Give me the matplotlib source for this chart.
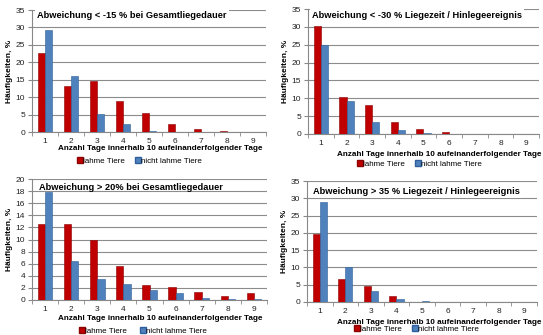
import matplotlib
matplotlib.use("Agg")
import matplotlib.pyplot as plt
import numpy as np
from matplotlib.patches import Patch

plt.rcParams['font.family'] = ['Liberation Sans', 'DejaVu Sans']

categories = [1, 2, 3, 4, 5, 6, 7, 8, 9]

titles = [
    "Abweichung < -15 % bei Gesamtliegedauer",
    "Abweichung < -30 % Liegezeit / Hinlegeereignis",
    "Abweichung > 20% bei Gesamtliegedauer",
    "Abweichung > 35 % Liegezeit / Hinlegeereignis",
]
lahme = [
    [22.7, 13.3, 14.7, 8.8, 5.5, 2.4, 0.8, 0.15, 0.0],
    [30.3, 10.3, 8.0, 3.4, 1.3, 0.5, 0.0, 0.0, 0.0],
    [12.5, 12.5, 10.0, 5.7, 2.5, 2.1, 1.3, 0.7, 1.1],
    [19.7, 6.6, 4.6, 1.7, 0.0, 0.0, 0.0, 0.0, 0.0],
]
nicht_lahme = [
    [29.2, 16.0, 5.3, 2.2, 0.4, 0.1, 0.0, 0.0, 0.0],
    [24.8, 9.3, 3.3, 1.1, 0.2, 0.1, 0.0, 0.0, 0.0],
    [17.9, 6.4, 3.4, 2.7, 1.6, 1.1, 0.4, 0.2, 0.1],
    [29.0, 10.0, 3.2, 1.0, 0.4, 0.0, 0.0, 0.0, 0.0],
]
ymax = [35, 35, 20, 35]
ystep = [5, 5, 2, 5]

series_names = ["lahme Tiere", "nicht lahme Tiere"]
xlabel = "Anzahl Tage innerhalb 10 aufeinanderfolgender Tage"
ylabel = "Häufigkeiten, %"

RED = "#C00000"
BLUE = "#4F81BD"

W, H = 543, 335
fig = plt.figure(figsize=(W / 100, H / 100), dpi=100)

# (left, right, top, bottom) in pixels
boxes = [
    (32, 266, 10, 132),
    (308, 539, 9, 134),
    (32, 267, 179, 300),
    (307, 537, 181, 302),
]
xlabel_xy = [(160, 148), (439, 154), (160, 319), (439, 322)]
legend_x = [(81, 139), (361, 419), (83, 144), (358, 416)]
legend_y = [161, 164, 331, 329]
title_xy = [(37, 16), (312, 16), (39, 188), (313, 191)]
title_box = [True, True, False, True]

for i in range(4):
    l, r, t, b = boxes[i]
    ax = fig.add_axes([l / W, 1 - b / H, (r - l) / W, (b - t) / H])
    x = np.arange(len(categories))
    w = 0.28
    ax.bar(x - w / 2, lahme[i], w, color=RED, edgecolor="#8B0000", linewidth=0.4, zorder=3)
    ax.bar(x + w / 2, nicht_lahme[i], w, color=BLUE, edgecolor="#2F5F9A", linewidth=0.4, zorder=3)
    ax.set_xlim(-0.5, len(categories) - 0.5)
    ax.set_ylim(0, ymax[i])
    ax.set_yticks(np.arange(0, ymax[i] + 0.1, ystep[i]))
    ax.set_xticks(x)
    ax.set_xticklabels([str(c) for c in categories])
    ax.set_xticks(np.arange(-0.5, len(categories), 1), minor=True)
    ax.tick_params(axis='x', which='major', length=0, labelsize=6, pad=4, colors="#222222")
    ax.tick_params(axis='x', which='minor', length=3, color="#888888")
    ax.tick_params(axis='y', length=3, labelsize=6, color="#888888", labelcolor="#222222", pad=2)
    ax.grid(axis='y', color="#8C8C8C", linewidth=0.8, zorder=0)
    for s in ['top', 'right']:
        ax.spines[s].set_visible(False)
    ax.spines['left'].set_color("#888888")
    ax.spines['bottom'].set_color("#888888")
    ax.set_ylabel(ylabel, fontsize=6, fontweight='bold', labelpad=2)
    xx, xy = xlabel_xy[i]
    fig.text(xx / W, 1 - xy / H, xlabel, fontsize=5.9,
             fontweight='bold', ha='center', va='center')
    tx, ty = title_xy[i]
    bbox = dict(facecolor='white', edgecolor='none', pad=1.5) if title_box[i] else None
    fig.text(tx / W, 1 - ty / H, titles[i], fontsize=6.7, fontweight='bold',
             ha='left', va='center', bbox=bbox, zorder=10)
    handles = [Patch(facecolor=RED, edgecolor="#8B0000"), Patch(facecolor=BLUE, edgecolor="#2F5F9A")]
    for j in range(2):
        fig.legend([handles[j]], [series_names[j]], loc='center left',
                   bbox_to_anchor=((legend_x[i][j] - 4) / W, 1 - legend_y[i] / H),
                   frameon=False, fontsize=5.8, handlelength=0.7, handleheight=0.7,
                   handletextpad=0.1, borderpad=0, borderaxespad=0)

fig.savefig("out.png", dpi=100)
